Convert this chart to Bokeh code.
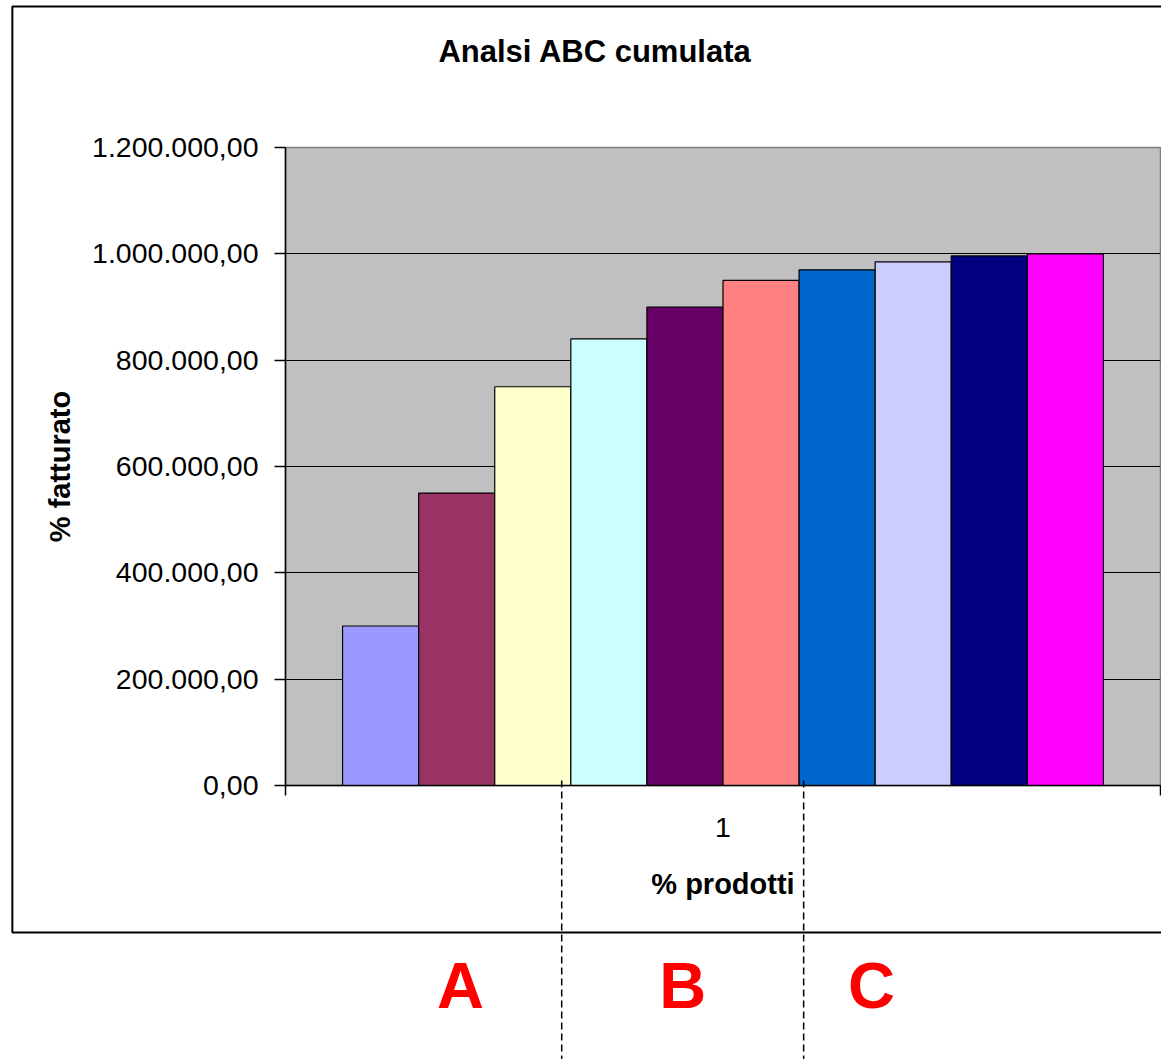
from bokeh.plotting import figure
from bokeh.models import Range1d, FixedTicker
from bokeh.core.properties import value
from bokeh.embed import file_html
from bokeh.resources import INLINE

# --- data -------------------------------------------------------------
chart_title = "Analsi ABC cumulata"
category_label = "1"
cumulative_revenue = [300000, 550000, 750000, 840000, 900000,
                      950000, 970000, 985000, 996000, 1000000]
bar_colors = ["#9999FF", "#993366", "#FFFFCC", "#CCFFFF", "#660066",
              "#FF8080", "#0066CC", "#CCCCFF", "#000080", "#FF00FF"]
y_ticks = [0, 200000, 400000, 600000, 800000, 1000000, 1200000]
class_names = ["A", "B", "C"]
class_name_x = [1.55, 4.47, 6.95]      # centre of each class letter (bar units)
class_dividers = [2.88, 6.06]          # dashed separators between classes


def it_number(v):
    """Italian number format: 1.200.000,00"""
    s = f"{v:,.2f}"
    return s.replace(",", "#").replace(".", ",").replace("#", ".")


n = len(cumulative_revenue)
half_gap = 0.75                       # half of a 150% gap on each side
centre = n / 2
y_max = y_ticks[-1]
px = y_max / 638                      # data units per vertical pixel of the frame

FONT = "Liberation Sans"

p = figure(width=1161, height=1059, output_backend="svg", toolbar_location=None,
           x_range=Range1d(-half_gap, n + half_gap), y_range=Range1d(0, y_max),
           min_border_left=285, min_border_right=1, min_border_top=147,
           min_border_bottom=274)

p.background_fill_color = "#C0C0C0"
p.border_fill_color = "white"
p.outline_line_color = "#808080"
p.outline_line_width = 1.5

# gridlines (the top one coincides with the frame outline)
p.xgrid.visible = False
p.ygrid.ticker = FixedTicker(ticks=y_ticks[1:-1])
p.ygrid.grid_line_color = "black"
p.ygrid.grid_line_width = 1.2

# bars: one per series, side by side within the single category
lefts = [i for i in range(n)]
rights = [i + 1 for i in range(n)]
p.quad(left=lefts, right=rights, bottom=[0] * n, top=cumulative_revenue,
       fill_color=bar_colors, line_color="black", line_width=1.2)

# y axis
ya = p.yaxis[0]
ya.ticker = FixedTicker(ticks=y_ticks)
ya.major_label_overrides = {t: it_number(t) for t in y_ticks}
ya.major_tick_out = 11
ya.major_tick_in = 0
ya.minor_tick_line_color = None
ya.axis_line_color = "black"
ya.axis_line_width = 1.5
ya.major_tick_line_width = 1.5
ya.major_label_standoff = 16
ya.major_label_text_font = FONT
ya.major_label_text_font_size = "28.5px"
ya.major_label_text_color = "black"
ya.axis_label = "% fatturato"
ya.axis_label_text_font = FONT
ya.axis_label_text_font_size = "29px"
ya.axis_label_text_font_style = "bold"
ya.axis_label_text_color = "black"
ya.axis_label_standoff = 13

# x axis: label at the category centre, tick marks at its boundaries
xa = p.xaxis[0]
xa.ticker = FixedTicker(ticks=[centre], minor_ticks=[-half_gap, n + half_gap])
xa.major_label_overrides = {centre: category_label}
xa.major_tick_line_color = None
xa.major_tick_out = 10
xa.major_tick_in = 0
xa.minor_tick_line_color = "black"
xa.minor_tick_line_width = 1.5
xa.minor_tick_out = 10
xa.minor_tick_in = 0
xa.axis_line_color = "black"
xa.axis_line_width = 1.5
xa.major_label_standoff = 22
xa.major_label_text_font = FONT
xa.major_label_text_font_size = "28.5px"
xa.major_label_text_color = "black"
xa.axis_label = "% prodotti"
xa.axis_label_text_font = FONT
xa.axis_label_text_font_size = "29px"
xa.axis_label_text_font_style = "bold"
xa.axis_label_text_color = "black"
xa.axis_label_standoff = 28

# chart area border (drawn as an overlay so it can extend past the frame)
p.quad(left=[-4.34], right=[11.2], top=[779 * px], bottom=[-147 * px],
       fill_color=None, line_color="black", line_width=2, level="overlay")

# chart title
p.text(x=[3.32], y=[734 * px], text=[chart_title], text_align="center",
       text_baseline="alphabetic", text_font=value(FONT), text_font_size="31px",
       text_font_style="bold", text_color="black", level="overlay")

# class separators
p.segment(x0=class_dividers, y0=[5 * px] * len(class_dividers),
          x1=class_dividers, y1=[-300 * px] * len(class_dividers),
          line_color="black", line_width=1.5, line_dash="7 4", level="overlay")

# class letters
p.text(x=class_name_x, y=[-200 * px] * len(class_names), text=class_names,
       text_align="center", text_baseline="alphabetic", text_font=value(FONT),
       text_font_size="65px", text_font_style="bold", text_color="#FF0000",
       level="overlay")

open("out.html", "w").write(file_html(p, INLINE))
